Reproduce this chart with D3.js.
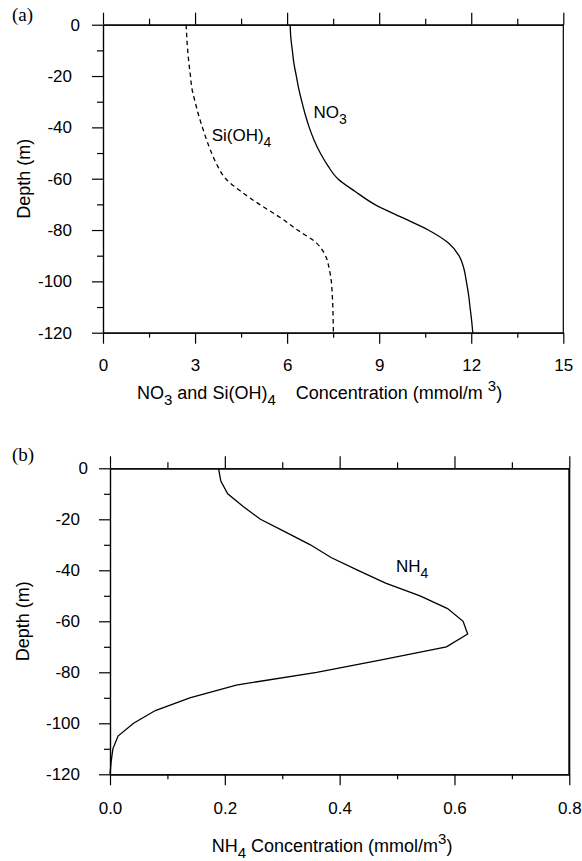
<!DOCTYPE html>
<html>
<head>
<meta charset="utf-8">
<script src="https://cdn.jsdelivr.net/npm/d3@7/dist/d3.min.js"></script>
<style>
  body { margin: 0; background: #fff; }
  svg text { font-family: "Liberation Sans", Arial, Helvetica, sans-serif; fill: #000; }
  .axis path, .axis line { stroke: #000; stroke-width: 1.2; }
  .axis text { font-size: 17px; }
  .panel { font-family: "Liberation Serif", "Times New Roman", serif !important; font-size: 19px; }
</style>
</head>
<body>
<div id="chart"></div>
<script>
// depth grid (m)
var depth = [0, -5, -10, -15, -20, -25, -30, -35, -40, -45, -50, -55, -60,
  -65, -70, -75, -80, -85, -90, -95, -100, -105, -110, -115, -120];

// panel (a) profiles, mmol/m3
var no3 = [6.10, 6.12, 6.17, 6.22, 6.30, 6.38, 6.48, 6.59, 6.72, 6.88, 7.08, 7.33, 7.65,
  8.22, 8.85, 9.72, 10.60, 11.25, 11.60, 11.76, 11.84, 11.91, 11.96, 12.01, 12.05];
var sioh4 = [2.71, 2.73, 2.76, 2.80, 2.85, 2.90, 3.00, 3.11, 3.24, 3.38, 3.54, 3.73, 4.00,
  4.50, 5.10, 5.76, 6.34, 6.95, 7.25, 7.37, 7.44, 7.47, 7.49, 7.50, 7.51];

// panel (b) profile, mmol/m3
var nh4 = [0.189, 0.193, 0.205, 0.232, 0.262, 0.306, 0.349, 0.385, 0.432, 0.480, 0.540, 0.588, 0.615,
  0.623, 0.586, 0.475, 0.360, 0.220, 0.139, 0.079, 0.041, 0.014, 0.005, 0.002, 0.000];

// ticks
var xMajorA = [0, 3, 6, 9, 12, 15];
var xMinorA = [1.5, 4.5, 7.5, 10.5, 13.5];
var xMajorB = [0, 0.2, 0.4, 0.6, 0.8];
var xMinorB = [0.1, 0.3, 0.5, 0.7];
var yMajor = [0, -20, -40, -60, -80, -100, -120];
var yMinor = [-10, -30, -50, -70, -90, -110];

var svg = d3.select("#chart").append("svg")
  .attr("width", 582)
  .attr("height", 861);

function drawPanel(p) {
  var x = d3.scaleLinear().domain(p.xDomain).range([p.left, p.right]);
  var y = d3.scaleLinear().domain([0, -120]).range([p.top, p.bottom]);
  var g = svg.append("g");

  // top axis, ticks only
  g.append("g").attr("class", "axis")
    .attr("transform", `translate(0,${p.top})`)
    .call(d3.axisTop(x).tickValues(p.xMajor).tickSize(12).tickSizeOuter(0).tickFormat(""));
  g.append("g").attr("class", "axis")
    .attr("transform", `translate(0,${p.top})`)
    .call(d3.axisTop(x).tickValues(p.xMinor).tickSize(6).tickSizeOuter(0).tickFormat(""));

  // bottom axis
  g.append("g").attr("class", "axis")
    .attr("transform", `translate(0,${p.bottom})`)
    .call(d3.axisBottom(x).tickValues(p.xMajor).tickSize(11).tickSizeOuter(0)
      .tickPadding(p.xPad).tickFormat(p.xFormat));
  g.append("g").attr("class", "axis")
    .attr("transform", `translate(0,${p.bottom})`)
    .call(d3.axisBottom(x).tickValues(p.xMinor).tickSize(5).tickSizeOuter(0).tickFormat(""));

  // left axis (plain hyphen for negatives, like the original)
  var yAx = g.append("g").attr("class", "axis")
    .attr("transform", `translate(${p.left},0)`)
    .call(d3.axisLeft(y).tickValues(yMajor).tickSize(11).tickSizeOuter(0)
      .tickPadding(p.yPad).tickFormat(d => String(d)));
  yAx.selectAll(".tick text").filter(d => d === 0).attr("dx", 8);
  g.append("g").attr("class", "axis")
    .attr("transform", `translate(${p.left},0)`)
    .call(d3.axisLeft(y).tickValues(yMinor).tickSize(6).tickSizeOuter(0).tickFormat(""));

  // right frame line
  g.append("line")
    .attr("x1", p.right).attr("x2", p.right)
    .attr("y1", p.top).attr("y2", p.bottom)
    .attr("stroke", "#000").attr("stroke-width", p.rightWidth);

  // y title
  g.append("text")
    .attr("transform", `translate(${p.yTitleX},${(p.top + p.bottom) / 2}) rotate(-90)`)
    .attr("text-anchor", "middle")
    .attr("dominant-baseline", "central")
    .style("font-size", "18px")
    .text("Depth (m)");

  // panel letter
  g.append("text")
    .attr("class", "panel")
    .attr("x", 12).attr("y", p.letterY)
    .text(p.letter);

  return { x: x, y: y, g: g };
}

function subLabel(g, xPos, yPos, parts, size) {
  var t = g.append("text")
    .attr("x", xPos).attr("y", yPos)
    .style("font-size", size + "px");
  parts.forEach(function(pt) {
    var s = t.append("tspan").text(pt[0]);
    if (pt[1] === "sub") {
      s.attr("dy", 6).style("font-size", (size - 3) + "px");
    } else if (pt[1] === "sup") {
      s.attr("dy", -8).style("font-size", (size - 3) + "px");
    } else if (pt[1] === "back") {
      s.attr("dy", pt[2]);
    }
  });
  return t;
}

// ---- panel (a)
var a = drawPanel({
  left: 103, right: 563.3, top: 24.7, bottom: 332.7,
  xDomain: [0, 15], xMajor: xMajorA, xMinor: xMinorA,
  xFormat: d3.format("d"), xPad: 15, yPad: 20,
  yTitleX: 24, letter: "(a)", letterY: 20.5, rightWidth: 1.2
});

var lineA = d3.line()
  .x(d => a.x(d[0]))
  .y(d => a.y(d[1]))
  .curve(d3.curveMonotoneY);

a.g.append("path")
  .datum(d3.zip(sioh4, depth))
  .attr("d", lineA)
  .attr("fill", "none")
  .attr("stroke", "#000")
  .attr("stroke-width", 1.3)
  .attr("stroke-dasharray", "4.5,3.5");

a.g.append("path")
  .datum(d3.zip(no3, depth))
  .attr("d", lineA)
  .attr("fill", "none")
  .attr("stroke", "#000")
  .attr("stroke-width", 1.3);

subLabel(a.g, a.x(6.86), a.y(-36.5), [["NO"], ["3", "sub"]], 17);
subLabel(a.g, a.x(3.54), a.y(-45.2), [["Si(OH)"], ["4", "sub"]], 17);

// x title (a)
subLabel(svg, 137, 399, [["NO"], ["3", "sub"], [" and Si(OH)", "back", -6], ["4", "sub"],
  ["\u00a0\u00a0\u00a0 Concentration (mmol/m\u00a0", "back", -6], ["3", "sup"], [")", "back", 8]], 18);

// ---- panel (b)
var b = drawPanel({
  left: 110, right: 569.3, top: 468.3, bottom: 774.3,
  xDomain: [0, 0.8], xMajor: xMajorB, xMinor: xMinorB,
  xFormat: d3.format(".1f"), xPad: 16.5, yPad: 19,
  yTitleX: 23, letter: "(b)", letterY: 460.5, rightWidth: 2
});

var lineB = d3.line()
  .x(d => b.x(d[0]))
  .y(d => b.y(d[1]));

b.g.append("path")
  .datum(d3.zip(nh4, depth))
  .attr("d", lineB)
  .attr("fill", "none")
  .attr("stroke", "#000")
  .attr("stroke-width", 1.3);

subLabel(b.g, b.x(0.498), b.y(-40.5), [["NH"], ["4", "sub"]], 17);

// x title (b)
subLabel(svg, 211.7, 852, [["NH"], ["4", "sub"], [" Concentration (mmol/m", "back", -6],
  ["3", "sup"], [")", "back", 8]], 18);
</script>
</body>
</html>
